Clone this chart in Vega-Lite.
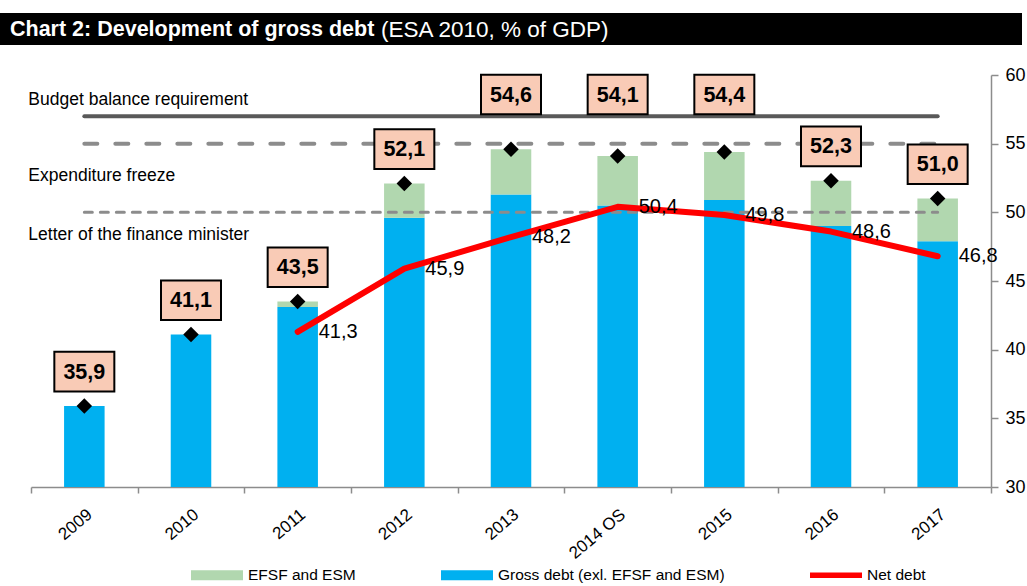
{
  "$schema": "https://vega.github.io/schema/vega-lite/v6.json",
  "background": "white",
  "padding": {"left": 0, "top": 13, "right": 0, "bottom": 0},
  "spacing": 30,
  "center": true,
  "bounds": "flush",
  "datasets": {
    "header": [{"bold": "Chart 2: Development of gross debt", "normal": "(ESA 2010, % of GDP)"}],
    "bars": [
      {"year": "2009", "component": "Gross debt (exl. EFSF and ESM)", "value": 35.9},
      {"year": "2010", "component": "Gross debt (exl. EFSF and ESM)", "value": 41.1},
      {"year": "2011", "component": "Gross debt (exl. EFSF and ESM)", "value": 43.1},
      {"year": "2011", "component": "EFSF and ESM", "value": 0.4},
      {"year": "2012", "component": "Gross debt (exl. EFSF and ESM)", "value": 49.6},
      {"year": "2012", "component": "EFSF and ESM", "value": 2.5},
      {"year": "2013", "component": "Gross debt (exl. EFSF and ESM)", "value": 51.3},
      {"year": "2013", "component": "EFSF and ESM", "value": 3.3},
      {"year": "2014 OS", "component": "Gross debt (exl. EFSF and ESM)", "value": 50.5},
      {"year": "2014 OS", "component": "EFSF and ESM", "value": 3.6},
      {"year": "2015", "component": "Gross debt (exl. EFSF and ESM)", "value": 50.9},
      {"year": "2015", "component": "EFSF and ESM", "value": 3.5},
      {"year": "2016", "component": "Gross debt (exl. EFSF and ESM)", "value": 49.0},
      {"year": "2016", "component": "EFSF and ESM", "value": 3.3},
      {"year": "2017", "component": "Gross debt (exl. EFSF and ESM)", "value": 47.9},
      {"year": "2017", "component": "EFSF and ESM", "value": 3.1}
    ],
    "totals": [
      {"year": "2009", "total": 35.9, "net": null},
      {"year": "2010", "total": 41.1, "net": null},
      {"year": "2011", "total": 43.5, "net": 41.3},
      {"year": "2012", "total": 52.1, "net": 45.9},
      {"year": "2013", "total": 54.6, "net": 48.2},
      {"year": "2014 OS", "total": 54.1, "net": 50.4},
      {"year": "2015", "total": 54.4, "net": 49.8},
      {"year": "2016", "total": 52.3, "net": 48.6},
      {"year": "2017", "total": 51.0, "net": 46.8}
    ],
    "refLines": [
      {"name": "Budget balance requirement", "year": "2009", "level": 57},
      {"name": "Budget balance requirement", "year": "2017", "level": 57},
      {"name": "Expenditure freeze", "year": "2009", "level": 55},
      {"name": "Expenditure freeze", "year": "2017", "level": 55},
      {"name": "Letter of the finance minister", "year": "2009", "level": 50},
      {"name": "Letter of the finance minister", "year": "2017", "level": 50}
    ]
  },
  "vconcat": [
    {
      "width": 1022,
      "height": 32,
      "data": {"name": "header"},
      "layer": [
        {
          "mark": {"type": "rect", "color": "black"},
          "encoding": {"x": {"value": 0}, "x2": {"value": "width"}, "y": {"value": 0}, "y2": {"value": "height"}}
        },
        {
          "mark": {"type": "text", "align": "left", "baseline": "middle", "color": "white", "fontWeight": "bold", "fontSize": 21.5},
          "encoding": {"x": {"value": 10}, "y": {"value": 17}, "text": {"field": "bold"}}
        },
        {
          "mark": {"type": "text", "align": "left", "baseline": "middle", "color": "white", "fontSize": 22.5},
          "encoding": {"x": {"value": 381}, "y": {"value": 17}, "text": {"field": "normal"}}
        }
      ]
    },
    {
      "width": 960,
      "height": 412,
      "encoding": {
        "x": {
          "field": "year", "type": "nominal",
          "scale": {"domain": ["2009", "2010", "2011", "2012", "2013", "2014 OS", "2015", "2016", "2017"], "paddingInner": 0, "paddingOuter": 0},
          "axis": {"title": null, "labelAngle": -40, "labelFontSize": 17, "labelPadding": 13, "tickBand": "extent", "tickSize": 6, "domainColor": "#8c8c8c", "tickColor": "#8c8c8c", "domainWidth": 1.5, "tickWidth": 1.5}
        }
      },
      "layer": [
        {
          "data": {"name": "bars"},
          "mark": {"type": "bar", "clip": true, "width": {"band": 0.38}},
          "encoding": {
            "y": {
              "field": "value", "type": "quantitative", "stack": "zero",
              "scale": {"domain": [30, 60], "zero": false, "nice": false},
              "axis": {"orient": "right", "title": null, "values": [30, 35, 40, 45, 50, 55, 60], "grid": false, "labelFontSize": 18, "tickSize": 7, "labelPadding": 7, "domainColor": "#8c8c8c", "tickColor": "#8c8c8c", "domainWidth": 1.5, "tickWidth": 1.5}
            },
            "color": {
              "field": "component", "type": "nominal",
              "scale": {"domain": ["EFSF and ESM", "Gross debt (exl. EFSF and ESM)", "Net debt"], "range": ["#B1D7AF", "#00B0F0", "#FF0000"]},
              "legend": {
                "title": null, "orient": "none", "legendX": 191, "legendY": 536, "direction": "horizontal", "columns": 3, "columnPadding": 85,
                "symbolSize": 2704, "labelFontSize": 15.5, "labelOffset": 5, "labelLimit": 500, "labelColor": "black",
                "encode": {
                  "symbols": {
                    "update": {
                      "shape": {"signal": "datum.value === 'Net debt' ? 'M-1,-0.11L1,-0.11L1,0.11L-1,0.11Z' : 'M-1,-0.19L1,-0.19L1,0.19L-1,0.19Z'"},
                      "fill": {"signal": "datum.value === 'Net debt' ? '#FF0000' : datum.value === 'EFSF and ESM' ? '#B1D7AF' : '#00B0F0'"},
                      "fillOpacity": {"value": 1},
                      "strokeWidth": {"value": 0}
                    }
                  }
                }
              }
            },
            "order": {"field": "component", "sort": "descending"}
          }
        },
        {
          "data": {"name": "refLines"},
          "transform": [{"filter": "datum.name === 'Budget balance requirement'"}],
          "mark": {"type": "line", "color": "#595959", "strokeWidth": 4, "strokeCap": "round"},
          "encoding": {"y": {"field": "level", "type": "quantitative"}}
        },
        {
          "data": {"name": "refLines"},
          "transform": [{"filter": "datum.name === 'Expenditure freeze'"}],
          "mark": {"type": "line", "color": "#8c8c8c", "strokeWidth": 4, "strokeCap": "round", "strokeDash": [13, 18]},
          "encoding": {"y": {"field": "level", "type": "quantitative"}}
        },
        {
          "data": {"name": "refLines"},
          "transform": [{"filter": "datum.name === 'Letter of the finance minister'"}],
          "mark": {"type": "line", "color": "#8c8c8c", "strokeWidth": 3, "strokeCap": "round", "strokeDash": [8, 8]},
          "encoding": {"y": {"field": "level", "type": "quantitative"}}
        },
        {
          "data": {"name": "refLines"},
          "transform": [{"filter": "datum.name === 'Budget balance requirement' && datum.year === '2009'"}],
          "mark": {"type": "text", "align": "left", "baseline": "middle", "dx": -56, "dy": -16, "fontSize": 17.5, "color": "black"},
          "encoding": {"y": {"field": "level", "type": "quantitative"}, "text": {"field": "name"}}
        },
        {
          "data": {"name": "refLines"},
          "transform": [{"filter": "datum.name === 'Expenditure freeze' && datum.year === '2009'"}],
          "mark": {"type": "text", "align": "left", "baseline": "middle", "dx": -56, "dy": 32, "fontSize": 17.5, "color": "black"},
          "encoding": {"y": {"field": "level", "type": "quantitative"}, "text": {"field": "name"}}
        },
        {
          "data": {"name": "refLines"},
          "transform": [{"filter": "datum.name === 'Letter of the finance minister' && datum.year === '2009'"}],
          "mark": {"type": "text", "align": "left", "baseline": "middle", "dx": -56, "dy": 23, "fontSize": 17.5, "color": "black"},
          "encoding": {"y": {"field": "level", "type": "quantitative"}, "text": {"field": "name"}}
        },
        {
          "data": {"name": "totals"},
          "transform": [{"filter": "datum.net != null"}],
          "mark": {"type": "line", "strokeWidth": 6, "strokeCap": "round", "strokeJoin": "round"},
          "encoding": {"y": {"field": "net", "type": "quantitative"}, "color": {"datum": "Net debt"}}
        },
        {
          "data": {"name": "totals"},
          "mark": {"type": "point", "shape": "diamond", "filled": true, "color": "black", "size": 240, "opacity": 1},
          "encoding": {"y": {"field": "total", "type": "quantitative"}}
        },
        {
          "data": {"name": "totals"},
          "transform": [{"calculate": "datum.total > 54 ? 58.58 : datum.total + 2.5", "as": "labelY"}],
          "mark": {"type": "point", "shape": "M-1,-0.66L1,-0.66L1,0.66L-1,0.66Z", "filled": true, "fill": "#F9CBB6", "stroke": "black", "strokeWidth": 2, "size": 3600, "opacity": 1, "clip": false},
          "encoding": {"y": {"field": "labelY", "type": "quantitative"}}
        },
        {
          "data": {"name": "totals"},
          "transform": [{"calculate": "datum.total > 54 ? 58.58 : datum.total + 2.5", "as": "labelY"}],
          "mark": {"type": "text", "fontWeight": "bold", "fontSize": 21.5, "color": "black", "baseline": "middle", "dy": 1},
          "encoding": {"y": {"field": "labelY", "type": "quantitative"}, "text": {"field": "total", "type": "quantitative", "format": ".1f"}}
        },
        {
          "data": {"name": "totals"},
          "transform": [{"filter": "datum.net != null"}],
          "mark": {"type": "text", "fontSize": 20, "color": "black", "align": "left", "baseline": "middle", "dx": 21, "dy": 0},
          "encoding": {"y": {"field": "net", "type": "quantitative"}, "text": {"field": "net", "type": "quantitative", "format": ".1f"}}
        }
      ]
    }
  ],
  "config": {
    "font": "Liberation Sans, Arial, sans-serif",
    "view": {"stroke": null},
    "axis": {"labelColor": "black", "labelFont": "Liberation Sans, Arial, sans-serif"},
    "legend": {"labelFont": "Liberation Sans, Arial, sans-serif"},
    "locale": {"number": {"decimal": ",", "thousands": ".", "grouping": [3], "currency": ["", " €"]}}
  }
}
